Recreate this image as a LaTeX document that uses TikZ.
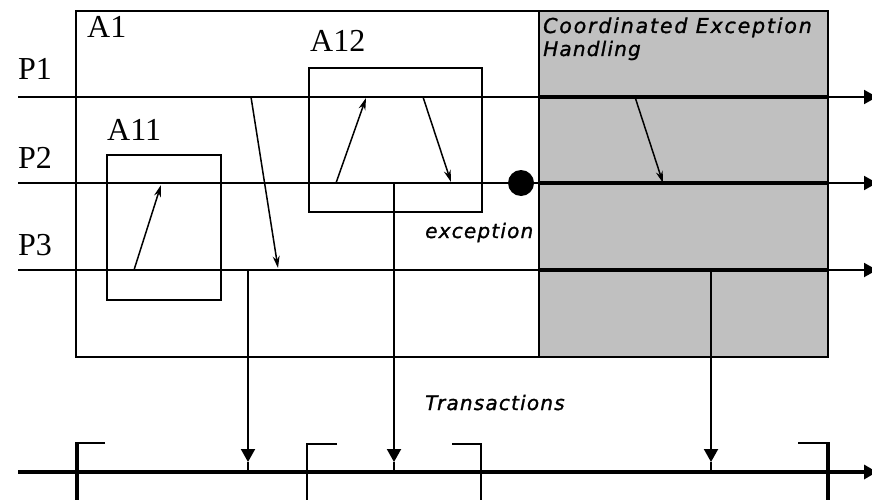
\documentclass[tikz,border=0pt]{standalone}
\usepackage{fontspec}
\setmainfont{Liberation Serif}
\newfontfamily\lblfont[LetterSpace=6,FakeBold=1.2]{DejaVu Sans}
\usetikzlibrary{arrows.meta,calc}
\definecolor{ehgray}{RGB}{192,192,192}
\begin{document}
\begin{tikzpicture}[x=1pt,y=-1pt,
  thinline/.style={line width=2pt},
  thickline/.style={line width=4.5pt},
  boxframe/.style={draw, line width=2pt, inner sep=0pt, anchor=north west},
  msgarrow/.style={line width=1.5pt, -{Stealth[length=12pt,width=7pt]}},
  endarrow/.style={-{Triangle[length=13pt,width=14pt]}},
  downarrow/.style={line width=2pt, -{Triangle[length=13pt,width=14pt]}},
  serlbl/.style={inner sep=0pt, anchor=base west, font=\fontsize{32}{36}\selectfont},
  itlbl/.style={inner sep=0pt, anchor=base west, font=\lblfont\itshape\fontsize{20}{23}\selectfont},
  bracketthick/.style={line width=4pt},
  bracketthin/.style={line width=2pt}
]
\useasboundingbox (0,0) rectangle (872,500);
\fill[white] (0,0) rectangle (872,500);

% gray exception handling area
\node[boxframe, fill=ehgray, minimum width=289pt, minimum height=346pt] (G) at (538,10) {};

% coordinates of the process lines
\coordinate (p1s) at (18,97);  \coordinate (p1e) at (877,97);
\coordinate (p2s) at (18,183); \coordinate (p2e) at (877,183);
\coordinate (p3s) at (18,270); \coordinate (p3e) at (877,270);
\coordinate (ts) at (18,472);  \coordinate (te) at (877,472);

% process lines
\draw[thinline, endarrow] (p1s) -- (p1e);
\draw[thinline, endarrow] (p2s) -- (p2e);
\draw[thinline, endarrow] (p3s) -- (p3e);
\draw[thickline] (G.west |- p1s) -- (G.east |- p1s);
\draw[thickline] (G.west |- p2s) -- (G.east |- p2s);
\draw[thickline] (G.west |- p3s) -- (G.east |- p3s);

% transactions line
\draw[thickline, endarrow] (ts) -- (te);

% boxes
\node[boxframe, minimum width=463pt, minimum height=346pt] (A1) at (75,10) {};
\node[boxframe, minimum width=289pt, minimum height=346pt] (G2) at (538,10) {};
\node[boxframe, minimum width=114pt, minimum height=145pt] (A11) at (106,154) {};
\node[boxframe, minimum width=173pt, minimum height=144pt] (A12) at (308,67) {};

% exception dot
\node[circle, fill=black, minimum size=26pt, inner sep=0pt] (exc) at (521,183) {};

% messages
\coordinate (m1s) at (134,270); \coordinate (m1e) at (161,185);
\coordinate (m2s) at (251,97);  \coordinate (m2e) at (278,268);
\coordinate (m3s) at (336,183); \coordinate (m3e) at (366,98);
\coordinate (m4s) at (423,97);  \coordinate (m4e) at (451,182);
\coordinate (m5s) at (635,97);  \coordinate (m5e) at (663,183);
\draw[msgarrow] (m1s) -- (m1e);
\draw[msgarrow] (m2s) -- (m2e);
\draw[msgarrow] (m3s) -- (m3e);
\draw[msgarrow] (m4s) -- (m4e);
\draw[msgarrow] (m5s) -- (m5e);

% links to transactions
\coordinate (v1s) at (248,270); \coordinate (v1t) at (248,462); \coordinate (v1e) at (248,472);
\coordinate (v2s) at (394,183); \coordinate (v2t) at (394,462); \coordinate (v2e) at (394,472);
\coordinate (v3s) at (711,270); \coordinate (v3t) at (711,462); \coordinate (v3e) at (711,472);
\draw[downarrow] (v1s) -- (v1t);
\draw[thinline] (v1t) -- (v1e);
\draw[downarrow] (v2s) -- (v2t);
\draw[thinline] (v2t) -- (v2e);
\draw[downarrow] (v3s) -- (v3t);
\draw[thinline] (v3t) -- (v3e);

% transaction brackets
\coordinate (b1a) at (105,443); \coordinate (b1b) at (77,443); \coordinate (b1c) at (77,510);
\coordinate (b2a) at (337,444); \coordinate (b2b) at (307,444); \coordinate (b2c) at (307,510);
\coordinate (b3a) at (452,444); \coordinate (b3b) at (481,444); \coordinate (b3c) at (481,510);
\coordinate (b4a) at (798,443); \coordinate (b4b) at (828,443); \coordinate (b4c) at (828,510);
\draw[bracketthin] (b1a) -- (b1b);
\draw[bracketthick] ($(b1b)+(0,-1)$) -- (b1c);
\draw[bracketthin] (b2a) -- (b2b) -- (b2c);
\draw[bracketthin] (b3a) -- (b3b) -- (b3c);
\draw[bracketthin] (b4a) -- (b4b);
\draw[bracketthick] ($(b4b)+(0,-1)$) -- (b4c);

% labels
\node[serlbl] (lA1) at (87,38) {A1};
\node[serlbl] (lA11) at (107,140) {A11};
\node[serlbl] (lA12) at (310,52) {A12};
\node[serlbl] (lP1) at (18,80) {P1};
\node[serlbl] (lP2) at (18,168) {P2};
\node[serlbl] (lP3) at (18,255) {P3};
\node[itlbl] (lexc) at (425,238) {exception};
\node[itlbl] (ltr) at (425,410) {Transactions};
\node[itlbl, font=\lblfont\itshape\fontsize{20.5}{23}\selectfont\addfontfeatures{LetterSpace=9}] (lceh1) at (543,33) {Coordinated Exception};
\node[itlbl] (lceh2) at (543,56) {Handling};
\end{tikzpicture}
\end{document}
